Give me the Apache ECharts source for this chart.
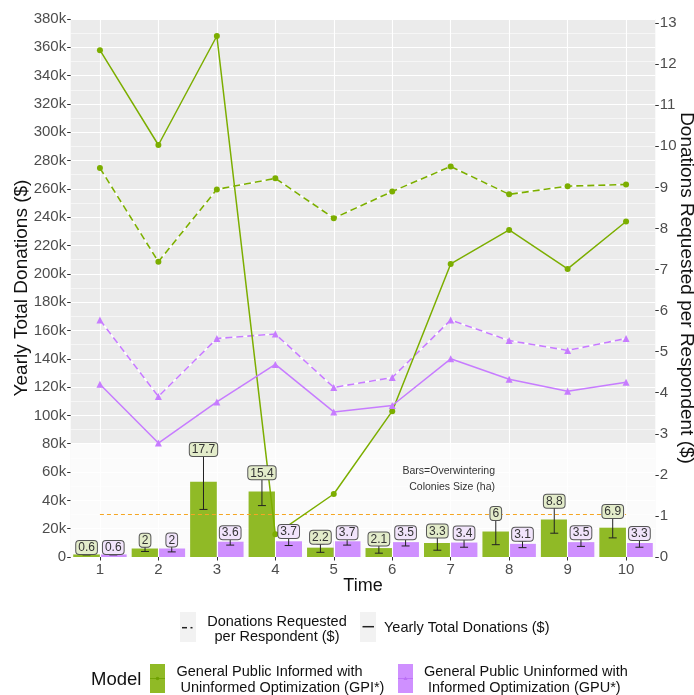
<!DOCTYPE html>
<html>
<head>
<meta charset="utf-8">
<script src="https://cdn.jsdelivr.net/npm/echarts@6/dist/echarts.min.js"></script>
<style>html,body{margin:0;padding:0;background:#fff;}#c{width:694px;height:695px;}</style>
</head>
<body>
<div id="c"></div>
<script>
// ---- data ----
const times = ['1','2','3','4','5','6','7','8','9','10'];
const gpiTotal = [358000, 291000, 368000, 16000, 44500, 103000, 207000, 231000, 203500, 237000];
const gpuTotal = [122000, 80500, 109500, 136000, 102500, 107000, 140000, 125500, 117000, 123500];
const gpiPerResp = [9.47, 7.19, 8.95, 9.22, 8.25, 8.90, 9.51, 8.83, 9.03, 9.07];
const gpuPerResp = [5.77, 3.91, 5.32, 5.43, 4.13, 4.37, 5.77, 5.27, 5.03, 5.32];
const gpiHa = [0.6, 2, 17.7, 15.4, 2.2, 2.1, 3.3, 6, 8.8, 6.9];
const gpuHa = [0.6, 2, 3.6, 3.7, 3.7, 3.5, 3.4, 3.1, 3.5, 3.3];
const gpiHaLow = [0.5, 1.3, 11.2, 12.1, 1.1, 0.9, 1.6, 2.9, 5.6, 4.5];
const gpiHaHigh = [0.7, 2.4, 23.8, 18.3, 3.1, 2.7, 4.6, 8.7, 11.6, 9.2];
const gpuHaLow = [0.5, 1.2, 2.8, 2.7, 2.8, 2.6, 2.3, 2.2, 2.5, 2.3];
const gpuHaHigh = [0.7, 2.5, 4.2, 4.5, 4.2, 4.2, 4.1, 3.8, 4.2, 4.0];
const leftTicks = {min: 0, max: 380000, interval: 20000};
const rightTickValues = [0,1,2,3,4,5,6,7,8,9,10,11,12,13];
const barScale = 3000;      // ha -> plotted on the donations axis
const thresholdValue = 30000;
const shadeTop = 80000;

// ---- styles ----
const FONT = 'Liberation Sans, Arial, Helvetica, sans-serif';
const GREEN = '#7cae00', PURPLE = '#c77cff';
const GREEN_BAR = 'rgba(124,174,0,0.85)', PURPLE_BAR = 'rgba(199,124,255,0.85)';
const BAR_FRAC = 0.457;

const chart = echarts.init(document.getElementById('c'), null, {renderer: 'canvas'});

function errSeries(vals, low, high, sign, boxFill) {
  return {
    type: 'custom', xAxisIndex: 0, yAxisIndex: 0, z: 6, silent: true,
    data: times.map((t, i) => [i, low[i] * barScale, high[i] * barScale, vals[i]]),
    encode: {x: 0, y: [1, 2]},
    renderItem(params, api) {
      const i = api.value(0);
      const band = api.size([1, 0])[0];
      const cHi = api.coord([i, api.value(2)]);
      const cLo = api.coord([i, api.value(1)]);
      const x = cHi[0] + sign * band * BAR_FRAC / 2;
      const cap = 4;
      const ls = {stroke: '#222', lineWidth: 1};
      return {
        type: 'group',
        children: [
          {type: 'line', shape: {x1: x, y1: cHi[1], x2: x, y2: cLo[1]}, style: ls},
          {type: 'line', shape: {x1: x - cap, y1: cHi[1], x2: x + cap, y2: cHi[1]}, style: ls},
          {type: 'line', shape: {x1: x - cap, y1: cLo[1], x2: x + cap, y2: cLo[1]}, style: ls},
          {type: 'text', x: x, y: cHi[1], style: {
            text: String(api.value(3)), align: 'center', verticalAlign: 'bottom',
            font: '12px ' + FONT, fill: '#333',
            backgroundColor: boxFill, borderColor: '#555', borderWidth: 1, borderRadius: 3,
            padding: [1, 2, 0, 2]
          }}
        ]
      };
    }
  };
}

function txt(x, y, text, size, align, color) {
  return {type: 'text', x: x, y: y, silent: true, z: 10,
    style: {text: text, font: size + 'px ' + FONT, fill: color || '#111', align: align || 'left', verticalAlign: 'middle', lineHeight: 15.5}};
}

const graphics = [
  // axis titles
  {type: 'text', x: 22, y: 288, rotation: Math.PI / 2, z: 10, silent: true,
    style: {text: 'Yearly Total Donations ($)', font: '19px ' + FONT, fill: '#111', align: 'center', verticalAlign: 'middle'}},
  {type: 'text', x: 686, y: 288, rotation: -Math.PI / 2, z: 10, silent: true,
    style: {text: 'Donations Requested per Respondent ($)', font: '19px ' + FONT, fill: '#111', align: 'center', verticalAlign: 'middle'}},
  txt(363, 586, 'Time', 18, 'center'),
  // chart annotation
  {type: 'text', x: 495, y: 479, z: 10, style: {text: 'Bars=Overwintering\nColonies Size (ha)', font: '10.5px ' + FONT, fill: '#333', align: 'right', verticalAlign: 'middle', lineHeight: 15.7}},
  // linetype legend
  {type: 'rect', shape: {x: 180, y: 612, width: 16, height: 30}, style: {fill: '#f2f2f2'}},
  {type: 'line', shape: {x1: 182, y1: 627.7, x2: 187, y2: 627.7}, style: {stroke: '#222', lineWidth: 1.5}},
  {type: 'line', shape: {x1: 190.5, y1: 627.7, x2: 192.5, y2: 627.7}, style: {stroke: '#222', lineWidth: 1.5}},
  {type: 'text', x: 277, y: 629, style: {text: 'Donations Requested\nper Respondent ($)', font: '14.5px ' + FONT, fill: '#111', align: 'center', verticalAlign: 'middle', lineHeight: 15}},
  {type: 'rect', shape: {x: 360, y: 612, width: 16, height: 30}, style: {fill: '#f2f2f2'}},
  {type: 'line', shape: {x1: 362.5, y1: 626.7, x2: 374, y2: 626.7}, style: {stroke: '#222', lineWidth: 1.5}},
  txt(384, 628, 'Yearly Total Donations ($)', 14.5),
  // model legend
  txt(91, 680, 'Model', 18.5),
  {type: 'rect', shape: {x: 150, y: 664, width: 15, height: 29}, style: {fill: GREEN_BAR}},
  {type: 'line', shape: {x1: 150, y1: 678.5, x2: 165, y2: 678.5}, style: {stroke: 'rgba(110,160,0,0.8)', lineWidth: 1}},
  {type: 'circle', shape: {cx: 157.5, cy: 678.5, r: 1.8}, style: {fill: 'rgba(110,160,0,0.9)'}},
  {type: 'text', x: 176.5, y: 679.7, style: {text: 'General Public Informed with\n Uninformed Optimization (GPI*)', font: '14.5px ' + FONT, fill: '#111', align: 'left', verticalAlign: 'middle', lineHeight: 16}},
  {type: 'rect', shape: {x: 398, y: 664, width: 15, height: 29}, style: {fill: PURPLE_BAR}},
  {type: 'line', shape: {x1: 398, y1: 678.5, x2: 413, y2: 678.5}, style: {stroke: 'rgba(185,110,245,0.8)', lineWidth: 1}},
  {type: 'polygon', shape: {points: [[405.5, 676.5], [403.5, 680], [407.5, 680]]}, style: {fill: 'rgba(185,110,245,0.9)'}},
  {type: 'text', x: 424, y: 679.7, style: {text: 'General Public Uninformed with\n Informed Optimization (GPU*)', font: '14.5px ' + FONT, fill: '#111', align: 'left', verticalAlign: 'middle', lineHeight: 16}}
];

const option = {
  animation: false,
  textStyle: {fontFamily: FONT},
  grid: {left: 70.7, right: 694 - 655.3, top: 19, bottom: 695 - 557, show: true, backgroundColor: '#ebebeb', borderWidth: 0, containLabel: false, outerBoundsMode: 'none'},
  xAxis: [{
    type: 'category', data: times, boundaryGap: true,
    axisLine: {show: false},
    axisTick: {show: true, alignWithLabel: true, length: 3.5, lineStyle: {color: '#333'}},
    axisLabel: {fontSize: 15, color: '#4d4d4d', margin: 5, fontFamily: FONT},
    splitLine: {show: false}
  }],
  yAxis: [{
    type: 'value', min: leftTicks.min, max: leftTicks.max, interval: leftTicks.interval,
    axisLine: {show: false},
    axisTick: {show: true, length: 3.5, lineStyle: {color: '#333'}},
    axisLabel: {fontSize: 15, color: '#4d4d4d', margin: 4.5, fontFamily: FONT,
      formatter: v => v === 0 ? '0' : (v / 1000) + 'k'},
    splitLine: {show: true, lineStyle: {color: '#ffffff', width: 1.1}},
    minorTick: {show: false, splitNumber: 2},
    minorSplitLine: {show: true, lineStyle: {color: '#ffffff', width: 0.55}}
  }, {
    type: 'value', min: 0, max: 13.1,
    position: 'right',
    axisLine: {show: false},
    axisTick: {show: true, length: 3.5, lineStyle: {color: '#333'}, customValues: rightTickValues},
    axisLabel: {fontSize: 15, color: '#4d4d4d', margin: 4.5, fontFamily: FONT, customValues: rightTickValues},
    splitLine: {show: false}
  }],
  graphic: graphics,
  series: [
    { // vertical grid lines at category centres
      type: 'line', data: [], z: 1, silent: true, xAxisIndex: 0, yAxisIndex: 0,
      markLine: {silent: true, symbol: 'none', label: {show: false},
        lineStyle: {color: '#ffffff', width: 1.1, type: 'solid'},
        data: times.map(t => ({xAxis: t}))}
    },
    { // light overlay on the lower band + threshold line
      type: 'line', data: [], z: 2, silent: true, xAxisIndex: 0, yAxisIndex: 0,
      markArea: {silent: true, itemStyle: {color: 'rgba(255,255,255,0.8)'},
        data: [[{yAxis: 0}, {yAxis: shadeTop}]]},
      markLine: {silent: true, symbol: 'none', label: {show: false},
        lineStyle: {color: '#f5a623', width: 1, type: [4, 3]},
        data: [[{xAxis: times[0], yAxis: thresholdValue}, {xAxis: times[times.length - 1], yAxis: thresholdValue}]]}
    },
    {type: 'bar', name: 'GPI bars', data: gpiHa.map(v => v * barScale), yAxisIndex: 0, z: 3,
      barCategoryGap: '8.6%', barGap: '0%', itemStyle: {color: GREEN_BAR}, silent: true},
    {type: 'bar', name: 'GPU bars', data: gpuHa.map(v => v * barScale), yAxisIndex: 0, z: 3,
      barCategoryGap: '8.6%', barGap: '0%', itemStyle: {color: PURPLE_BAR}, silent: true},
    // dashed: donations requested per respondent (right axis), white underlay
    {type: 'line', data: gpiPerResp, yAxisIndex: 1, z: 4, symbol: 'none', silent: true,
      lineStyle: {color: '#ffffff', width: 1.6}},
    {type: 'line', data: gpuPerResp, yAxisIndex: 1, z: 4, symbol: 'none', silent: true,
      lineStyle: {color: '#ffffff', width: 1.6}},
    {type: 'line', name: 'GPI per respondent', data: gpiPerResp, yAxisIndex: 1, z: 5,
      symbol: 'circle', symbolSize: 6, itemStyle: {color: GREEN},
      lineStyle: {color: GREEN, width: 1.6, type: [7, 4]}},
    {type: 'line', name: 'GPU per respondent', data: gpuPerResp, yAxisIndex: 1, z: 5,
      symbol: 'triangle', symbolSize: 7, itemStyle: {color: PURPLE},
      lineStyle: {color: PURPLE, width: 1.6, type: [7, 4]}},
    // solid: yearly total donations (left axis)
    {type: 'line', name: 'GPI total', data: gpiTotal, yAxisIndex: 0, z: 5,
      symbol: 'circle', symbolSize: 6, itemStyle: {color: GREEN},
      lineStyle: {color: GREEN, width: 1.5}},
    {type: 'line', name: 'GPU total', data: gpuTotal, yAxisIndex: 0, z: 5,
      symbol: 'triangle', symbolSize: 7, itemStyle: {color: PURPLE},
      lineStyle: {color: PURPLE, width: 1.5}},
    errSeries(gpiHa, gpiHaLow, gpiHaHigh, -1, '#e3ecca'),
    errSeries(gpuHa, gpuHaLow, gpuHaHigh, 1, '#f1e4fb')
  ]
};
chart.setOption(option);
</script>
</body>
</html>
